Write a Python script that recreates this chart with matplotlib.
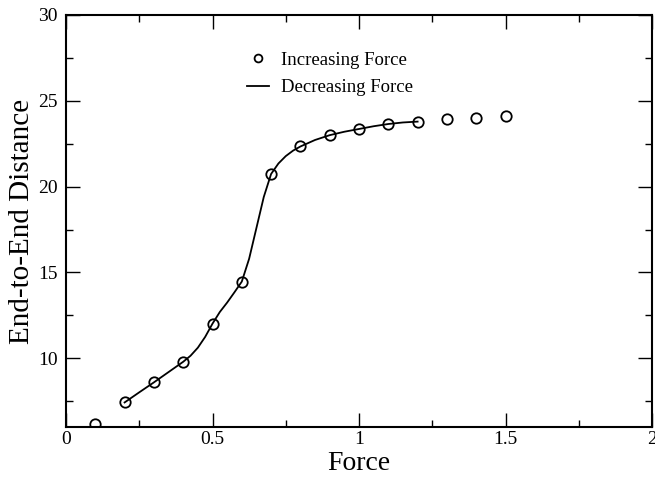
import matplotlib
matplotlib.use("Agg")
import matplotlib.pyplot as plt
from matplotlib.ticker import MultipleLocator

# Increasing force (circles)
inc_force = [0.1, 0.2, 0.3, 0.4, 0.5, 0.6, 0.7, 0.8, 0.9, 1.0, 1.1, 1.2, 1.3, 1.4, 1.5]
inc_dist = [6.15, 7.43, 8.60, 9.78, 12.02, 14.47, 20.74, 22.34, 23.00, 23.36, 23.65, 23.79, 23.94, 24.02, 24.12]

# Decreasing force (line)
dec_force = [0.2, 0.25, 0.3, 0.35, 0.4, 0.425, 0.45, 0.475, 0.5, 0.525, 0.55, 0.575, 0.6,
             0.625, 0.65, 0.675, 0.7, 0.725, 0.75, 0.775, 0.8, 0.85, 0.9, 0.95, 1.0,
             1.05, 1.1, 1.15, 1.2]
dec_dist = [7.43, 8.02, 8.60, 9.20, 9.80, 10.15, 10.62, 11.25, 12.02, 12.70, 13.25, 13.85, 14.47,
            15.80, 17.60, 19.40, 20.74, 21.35, 21.78, 22.10, 22.34, 22.72, 23.00, 23.20, 23.36,
            23.52, 23.65, 23.74, 23.79]

plt.rcParams['font.family'] = ['Liberation Serif', 'DejaVu Serif']

fig = plt.figure(figsize=(6.55, 4.86), dpi=100)
ax = fig.add_axes([66/655, (486-427)/486, (652-66)/655, (427-15)/486])

ax.plot(dec_force, dec_dist, color='black', linewidth=1.3, label='Decreasing Force', zorder=2)
ax.plot(inc_force, inc_dist, linestyle='none', marker='o', markersize=7.5,
        markerfacecolor='none', markeredgecolor='black', markeredgewidth=1.3,
        label='Increasing Force', zorder=3)

ax.set_xlim(0, 2)
ax.set_ylim(6, 30)
ax.xaxis.set_minor_locator(MultipleLocator(0.25))
ax.yaxis.set_minor_locator(MultipleLocator(2.5))
ax.set_xticks([0, 0.5, 1, 1.5, 2])
ax.set_xticklabels(['0', '0.5', '1', '1.5', '2'])
ax.set_yticks([10, 15, 20, 25, 30])
ax.set_yticklabels(['10', '15', '20', '25', '30'])

ax.tick_params(which='both', direction='in', top=True, right=True, labelsize=14, width=1.0)
ax.tick_params(axis='x', pad=3)
ax.tick_params(axis='y', pad=6)
ax.tick_params(which='major', length=10)
ax.tick_params(which='minor', length=5)
for s in ax.spines.values():
    s.set_linewidth(1.5)

ax.set_xlabel('Force', fontsize=20, labelpad=2)
ax.set_ylabel('End-to-End Distance', fontsize=21, labelpad=2)

handles, labels = ax.get_legend_handles_labels()
leg = ax.legend(handles[::-1], labels[::-1], loc='center', bbox_to_anchor=(0.45, 0.857),
                frameon=False, fontsize=13.5, handlelength=1.2, handletextpad=0.6,
                labelspacing=0.55, markerscale=0.75)

fig.savefig('out.png', dpi=100)
